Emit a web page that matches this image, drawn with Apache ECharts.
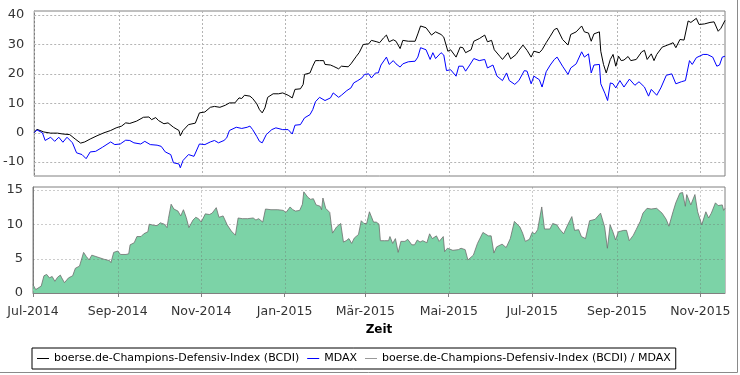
<!DOCTYPE html>
<html>
<head>
<meta charset="utf-8">
<script src="https://cdn.jsdelivr.net/npm/echarts@6/dist/echarts.min.js"></script>
<style>
html, body { margin: 0; padding: 0; background: #fff; }
#chart { width: 740px; height: 375px; }
</style>
</head>
<body>
<div id="chart"></div>
<script>
// german month abbreviations for the date labels
const monthNames = ['Jan', 'Feb', 'Mär', 'Apr', 'Mai', 'Jun', 'Jul', 'Aug', 'Sep', 'Okt', 'Nov', 'Dez'];
const tickMonths = ['2014-07', '2014-09', '2014-11', '2015-01', '2015-03', '2015-05', '2015-07', '2015-09', '2015-11'];
const topTicks = [-10, 0, 10, 20, 30, 40];
const bottomTicks = [0, 5, 10, 15];

// days after 1 July 2014, values in %
const bcdiDays = [0, 2, 7, 12, 17, 21, 26, 30, 34, 37, 41, 46, 51, 56, 60, 64, 67, 70, 75, 80, 84, 86, 89, 91, 95, 98, 102, 106, 107, 109, 113, 118, 121, 125, 129, 132, 136, 140, 143, 147, 150, 152, 154, 158, 160, 163, 165, 167, 169, 171, 175, 179, 182, 186, 189, 191, 195, 197, 198, 202, 204, 206, 209, 212, 213, 217, 219, 223, 225, 230, 232, 236, 238, 241, 245, 247, 251, 253, 256, 258, 260, 263, 265, 268, 270, 274, 279, 281, 283, 287, 291, 294, 298, 300, 303, 305, 309, 312, 314, 316, 320, 322, 326, 330, 332, 335, 337, 341, 343, 347, 349, 353, 355, 358, 361, 364, 366, 370, 372, 375, 378, 381, 383, 387, 391, 393, 397, 401, 403, 406, 408, 410, 414, 415, 417, 419, 422, 424, 426, 428, 430, 432, 435, 437, 441, 445, 447, 449, 452, 454, 456, 460, 464, 468, 470, 473, 476, 479, 481, 485, 487, 491, 495, 498, 501, 503, 506];
const bcdiValues = [0.0, 1.1, 0.2, -0.2, -0.2, -0.5, -0.7, -2.2, -3.6, -3.2, -2.2, -1.1, -0.1, 0.7, 1.6, 2.2, 3.3, 3.1, 3.9, 5.2, 5.3, 4.4, 5.1, 4.1, 3.0, 3.3, 1.8, 0.7, -1.1, 0.7, 2.7, 3.2, 6.7, 7.0, 8.6, 8.9, 8.6, 9.3, 10.1, 10.1, 11.8, 11.6, 12.7, 12.4, 11.6, 9.8, 7.8, 6.7, 8.4, 12.0, 13.2, 13.2, 13.5, 12.7, 11.8, 14.7, 14.9, 16.4, 19.8, 20.3, 22.6, 24.5, 24.5, 24.5, 23.2, 23.0, 22.6, 21.7, 22.6, 22.4, 23.4, 26.0, 27.2, 30.0, 30.2, 31.4, 30.9, 30.6, 32.3, 33.2, 30.9, 31.6, 31.1, 28.6, 31.4, 31.1, 31.1, 33.6, 36.3, 35.7, 33.2, 34.3, 33.4, 32.5, 27.7, 28.2, 25.7, 29.1, 28.9, 27.2, 28.2, 31.1, 32.0, 33.2, 30.9, 31.4, 28.2, 26.0, 24.9, 27.2, 25.1, 26.6, 28.0, 29.8, 28.0, 25.7, 27.7, 27.2, 28.2, 30.6, 32.8, 35.1, 35.5, 31.7, 29.8, 33.4, 34.3, 36.3, 34.3, 33.9, 31.1, 33.6, 34.3, 27.7, 23.2, 20.3, 24.9, 26.6, 22.6, 26.0, 24.5, 24.7, 25.9, 24.5, 24.9, 27.5, 28.0, 24.9, 26.8, 24.5, 26.6, 29.1, 29.8, 30.6, 28.9, 31.7, 31.5, 38.0, 37.5, 38.9, 36.8, 37.0, 37.5, 37.7, 34.5, 35.5, 38.2];

const mdaxDays = [0, 2, 6, 8, 12, 15, 18, 21, 24, 28, 31, 35, 38, 41, 45, 50, 56, 59, 63, 67, 70, 73, 78, 81, 85, 90, 93, 96, 100, 102, 106, 107, 109, 113, 117, 121, 125, 129, 132, 135, 139, 141, 143, 148, 152, 156, 158, 160, 163, 165, 167, 170, 174, 177, 182, 186, 189, 191, 195, 198, 202, 204, 206, 209, 213, 217, 219, 223, 225, 229, 232, 234, 237, 240, 242, 245, 247, 250, 252, 254, 258, 260, 263, 265, 268, 270, 274, 279, 281, 283, 287, 290, 292, 294, 298, 300, 302, 305, 309, 311, 314, 316, 319, 322, 326, 330, 332, 336, 339, 343, 346, 348, 352, 355, 359, 361, 364, 366, 370, 372, 375, 378, 381, 383, 387, 391, 393, 397, 401, 403, 406, 408, 410, 414, 415, 418, 420, 422, 424, 426, 429, 432, 436, 440, 443, 447, 450, 452, 456, 459, 463, 467, 470, 474, 477, 480, 482, 485, 490, 493, 497, 500, 502, 504, 506];
const mdaxValues = [0.0, 0.9, -0.1, -2.7, -1.6, -3.0, -1.6, -3.3, -1.6, -3.5, -6.9, -7.5, -8.9, -6.6, -6.4, -5.0, -3.2, -4.1, -3.9, -2.6, -2.7, -3.5, -3.9, -3.0, -4.1, -4.3, -4.7, -6.6, -7.5, -10.3, -10.7, -12.0, -9.5, -7.5, -8.1, -3.9, -4.1, -3.2, -2.7, -3.5, -2.7, -1.8, 0.7, 1.8, 1.4, 1.8, 2.2, 1.0, -1.3, -3.0, -3.5, -0.7, 1.0, 1.6, 1.0, 1.0, -0.5, 2.5, 2.7, 5.0, 6.1, 7.8, 10.5, 12.0, 10.9, 11.8, 13.5, 12.0, 12.7, 14.3, 15.2, 16.9, 17.7, 18.6, 19.8, 20.0, 18.6, 20.3, 20.3, 23.0, 25.7, 23.2, 24.5, 23.4, 22.3, 23.4, 24.1, 24.3, 25.7, 28.9, 28.2, 24.9, 27.2, 25.2, 27.2, 26.4, 21.1, 21.4, 19.2, 22.6, 22.6, 20.9, 23.0, 25.2, 24.5, 24.9, 22.0, 23.0, 19.2, 17.7, 20.3, 17.7, 16.4, 17.7, 21.1, 20.9, 16.6, 19.2, 18.0, 15.5, 20.7, 23.0, 24.9, 25.7, 22.6, 19.8, 22.0, 23.4, 27.5, 25.7, 26.8, 20.3, 23.0, 23.2, 16.6, 13.4, 10.9, 16.9, 16.6, 15.2, 17.7, 15.5, 18.2, 16.1, 17.3, 15.5, 12.4, 14.7, 12.7, 15.2, 19.5, 20.0, 16.6, 17.3, 17.7, 24.5, 23.2, 25.5, 26.6, 26.6, 25.7, 22.6, 23.0, 25.7, 26.0];

const ratioDays = [0, 2, 6, 8, 10, 12, 14, 16, 18, 20, 21, 23, 26, 29, 31, 34, 37, 39, 41, 43, 46, 49, 52, 56, 57, 59, 62, 64, 68, 70, 71, 74, 76, 79, 81, 84, 85, 89, 91, 93, 96, 98, 99, 101, 103, 106, 108, 110, 112, 114, 117, 119, 121, 123, 126, 129, 131, 134, 136, 139, 142, 145, 148, 150, 153, 157, 161, 163, 165, 168, 170, 174, 179, 183, 185, 188, 190, 192, 195, 197, 198, 201, 203, 205, 207, 210, 211, 212, 214, 217, 218, 219, 222, 225, 227, 229, 231, 233, 235, 238, 240, 242, 244, 246, 249, 251, 253, 254, 257, 260, 261, 263, 265, 267, 269, 272, 274, 277, 279, 281, 283, 285, 288, 290, 292, 295, 297, 300, 301, 303, 307, 311, 313, 316, 318, 322, 325, 329, 333, 335, 337, 339, 343, 346, 349, 352, 356, 358, 360, 363, 365, 367, 369, 372, 374, 378, 380, 383, 385, 388, 391, 394, 396, 399, 401, 404, 407, 411, 415, 418, 420, 422, 424, 426, 428, 432, 434, 436, 439, 441, 444, 446, 449, 452, 456, 460, 463, 465, 468, 470, 473, 475, 477, 478, 481, 484, 486, 489, 492, 494, 496, 499, 501, 504, 505, 506];
const ratioValues = [1.2, 0.5, 1.0, 2.5, 2.7, 2.2, 2.4, 1.7, 2.3, 2.6, 2.2, 1.5, 2.2, 2.5, 3.6, 3.9, 5.9, 5.3, 4.8, 5.5, 5.3, 5.1, 4.9, 4.7, 4.4, 5.9, 6.1, 5.6, 5.6, 5.7, 7.0, 7.3, 8.2, 8.2, 8.6, 8.9, 10.0, 9.8, 9.8, 10.2, 10.0, 9.5, 10.8, 12.9, 12.2, 11.9, 11.2, 12.1, 11.0, 9.5, 10.6, 11.0, 10.8, 10.3, 11.5, 11.4, 11.6, 12.4, 11.0, 11.2, 9.9, 9.0, 8.4, 10.9, 10.8, 10.8, 10.9, 10.6, 10.8, 10.3, 12.2, 12.1, 12.1, 12.0, 11.7, 12.5, 12.1, 11.9, 12.0, 12.9, 14.7, 13.9, 13.6, 13.7, 12.8, 12.6, 12.1, 13.8, 12.3, 11.7, 10.1, 8.7, 9.6, 10.1, 7.4, 7.6, 7.9, 7.2, 8.0, 8.5, 10.5, 10.1, 10.1, 11.8, 10.3, 10.3, 10.0, 7.6, 7.6, 7.6, 8.2, 7.2, 7.9, 5.9, 7.5, 7.5, 7.8, 7.0, 7.0, 7.7, 7.4, 7.6, 7.3, 8.6, 7.9, 8.3, 7.5, 8.2, 6.0, 6.5, 6.2, 6.3, 6.5, 6.3, 4.8, 5.5, 7.2, 8.8, 8.3, 8.3, 5.8, 6.7, 7.1, 6.6, 7.9, 10.4, 9.6, 8.7, 7.5, 7.8, 8.8, 8.6, 9.2, 12.5, 9.3, 9.3, 10.1, 9.9, 9.3, 8.6, 9.9, 11.1, 9.1, 9.2, 8.2, 7.9, 10.5, 10.7, 11.6, 9.6, 6.5, 9.9, 8.9, 7.7, 8.9, 9.1, 9.1, 7.6, 8.4, 9.2, 10.4, 11.6, 12.3, 12.2, 12.3, 11.6, 10.7, 9.7, 11.8, 13.1, 14.5, 14.6, 12.6, 14.3, 12.8, 14.3, 11.8, 9.9, 11.8, 10.9, 11.6, 13.1, 12.7, 12.8, 12.0, 12.3];

const DAY = 86400000;
const startUTC = Date.UTC(2014, 6, 1);
const lastDay = 506;
// month start -> day offset on the x axis
const monthTicks = tickMonths.map(s => {
    const p = s.split('-');
    return Math.round((Date.UTC(+p[0], +p[1] - 1, 1) - startUTC) / DAY);
});

function dayLabel(day) {
    const d = new Date(startUTC + day * DAY);
    return monthNames[d.getUTCMonth()] + '-' + d.getUTCFullYear();
}
function toPairs(days, values) {
    return days.map((d, i) => [d, values[i]]);
}

// dashed grid lines, built from short solid pieces placed through the axes
function dashedGrid(xIdx, yIdx, xTicks, yTicks, color, z) {
    const data = yTicks.map(v => [0, v, 0]).concat(xTicks.map(d => [d, 0, 1]));
    return {
        type: 'custom', xAxisIndex: xIdx, yAxisIndex: yIdx,
        silent: true, z: z, clip: false, tooltip: { show: false },
        data: data,
        renderItem: (params, api) => {
            const cs = params.coordSys;
            const vertical = api.value(2) === 1;
            const pieces = [];
            if (vertical) {
                const x = Math.round(api.coord([api.value(0), 0])[0]) + 0.5;
                for (let y = cs.y; y < cs.y + cs.height; y += 4) {
                    pieces.push({ type: 'line', shape: { x1: x, y1: y, x2: x, y2: Math.min(y + 2, cs.y + cs.height) },
                        style: { stroke: color, lineWidth: 1 } });
                }
            } else {
                const y = Math.round(api.coord([0, api.value(1)])[1]) + 0.5;
                for (let x = cs.x; x < cs.x + cs.width; x += 4) {
                    pieces.push({ type: 'line', shape: { x1: x, y1: y, x2: Math.min(x + 2, cs.x + cs.width), y2: y },
                        style: { stroke: color, lineWidth: 1 } });
                }
            }
            return { type: 'group', children: pieces };
        }
    };
}

const font = 'DejaVu Sans';
const borderGray = '#808080';

const chart = echarts.init(document.getElementById('chart'));

const option = {
    animation: false,
    backgroundColor: '#fff',
    grid: [
        { left: 33, right: 15, top: 11, height: 165, show: true, backgroundColor: 'transparent', borderColor: borderGray, borderWidth: 1 },
        { left: 33, right: 15, top: 187, height: 106, show: true, backgroundColor: 'transparent', borderColor: borderGray, borderWidth: 1 }
    ],
    xAxis: [
        {
            type: 'value', gridIndex: 0, min: 0, max: lastDay,
            axisLine: { show: false }, axisTick: { show: false },
            axisLabel: { show: false }, splitLine: { show: false }
        },
        {
            type: 'value', gridIndex: 1, min: 0, max: lastDay,
            offset: 4,
            name: 'Zeit', nameLocation: 'middle', nameGap: 27,
            nameTextStyle: { fontFamily: font, fontSize: 12, fontWeight: 'bold', color: '#000' },
            axisLine: { show: true, lineStyle: { color: borderGray, width: 1 } },
            axisTick: { show: true, length: 4, lineStyle: { color: borderGray }, customValues: monthTicks },
            axisLabel: {
                customValues: monthTicks, margin: 8,
                fontFamily: font, fontSize: 12.5, color: '#333',
                formatter: dayLabel
            },
            splitLine: { show: false }
        }
    ],
    yAxis: [
        {
            type: 'value', gridIndex: 0, min: -14.8, max: 41.4,
            axisLine: { show: true, lineStyle: { color: borderGray } },
            axisTick: { show: false },
            axisLabel: { customValues: topTicks, margin: 10, fontFamily: font, fontSize: 13, color: '#333' },
            splitLine: { show: false }
        },
        {
            type: 'value', gridIndex: 1, min: 0, max: 15.4,
            axisLine: { show: true, lineStyle: { color: borderGray } },
            axisTick: { show: false },
            axisLabel: { customValues: bottomTicks, margin: 10, fontFamily: font, fontSize: 13, color: '#333' },
            splitLine: { show: false }
        }
    ],
    legend: {
        left: 32, top: 348,
        padding: [5, 5],
        itemGap: 8, itemWidth: 12, itemHeight: 1,
        icon: 'rect',
        borderColor: '#000', borderWidth: 1, borderRadius: 0,
        textStyle: { fontFamily: font, fontSize: 11, color: '#000' },
        data: [
            'boerse.de-Champions-Defensiv-Index (BCDI)',
            'MDAX',
            'boerse.de-Champions-Defensiv-Index (BCDI) / MDAX'
        ]
    },
    graphic: [
        { type: 'polyline', shape: { points: [[737.5, 0], [737.5, 372.5], [0, 372.5]] }, style: { stroke: '#8a8a8a', fill: null, lineWidth: 1 } }
    ],
    series: [
        dashedGrid(0, 0, monthTicks, topTicks, '#b4b4b4', 1),
        dashedGrid(1, 1, monthTicks, bottomTicks.slice(1), 'rgba(110,110,110,0.35)', 3),
        {
            name: 'boerse.de-Champions-Defensiv-Index (BCDI)',
            type: 'line', xAxisIndex: 0, yAxisIndex: 0,
            showSymbol: false, color: '#000', z: 2,
            lineStyle: { width: 1, color: '#000' },
            data: toPairs(bcdiDays, bcdiValues)
        },
        {
            name: 'MDAX',
            type: 'line', xAxisIndex: 0, yAxisIndex: 0,
            showSymbol: false, color: '#0000ff', z: 2,
            lineStyle: { width: 1, color: '#0000ff' },
            data: toPairs(mdaxDays, mdaxValues)
        },
        {
            name: 'boerse.de-Champions-Defensiv-Index (BCDI) / MDAX',
            type: 'line', xAxisIndex: 1, yAxisIndex: 1,
            showSymbol: false, color: '#999', z: 2,
            lineStyle: { width: 1, color: 'rgba(110,110,110,0.8)' },
            areaStyle: { color: '#7cd3a7', opacity: 1 },
            data: toPairs(ratioDays, ratioValues)
        }
    ]
};

chart.setOption(option);
</script>
</body>
</html>
